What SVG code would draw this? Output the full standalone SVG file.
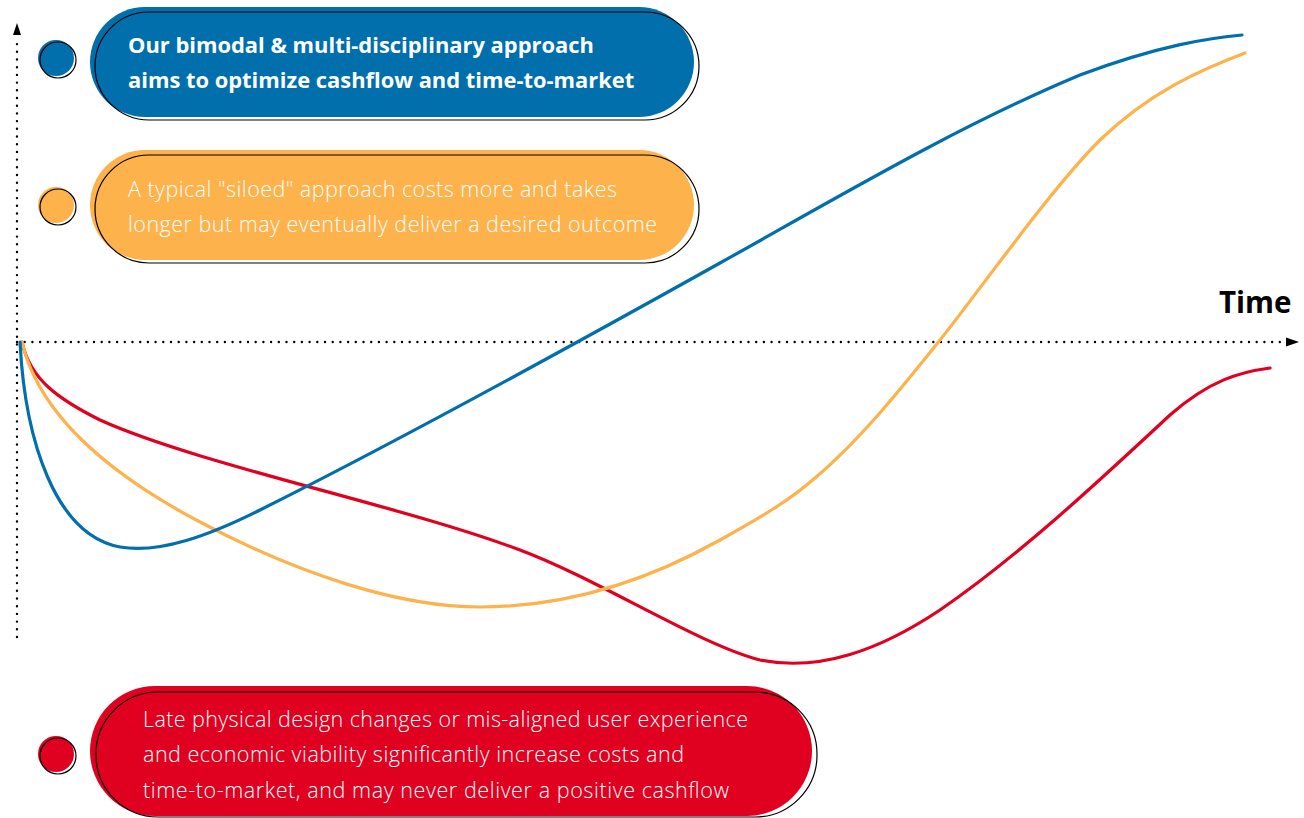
<svg xmlns="http://www.w3.org/2000/svg" width="1304" height="818" viewBox="0 0 1304 818">
<defs>
<style>
.axis{fill:none;stroke:#000;stroke-width:2.4;stroke-linecap:round;stroke-dasharray:0 7.7}
.curve{fill:none;stroke-width:3.2;stroke-linecap:round;stroke-linejoin:round}
.outline{fill:none;stroke:#000;stroke-width:1.2}
.t{font-family:"Open Sans","Noto Sans",sans-serif;fill:#fff}
.light{font-weight:300;font-size:21.5px}
.bold{font-weight:700;font-size:21.9px}
</style>
</defs>
<rect width="1304" height="818" fill="#fff"/>
<g id="axes">
<line class="axis" x1="17" y1="637" x2="17" y2="40"/>
<polygon points="17,23 13,35 21,35" fill="#000"/>
<line class="axis" x1="17" y1="342" x2="1283" y2="342"/>
<polygon points="1299,342 1286,337.5 1286,346.5" fill="#000"/>
<text x="1219" y="313" font-family="'Open Sans','Noto Sans',sans-serif" font-weight="700" font-size="29.5" fill="#000">Time</text>
</g>
<g id="connectors">
<path class="curve" stroke="#E0001F" d="M22,342 C30,380 60,400 100,420 C200,465 400,505 520,550 C600,580 700,645 760,660 C820,672 880,650 940,610 C1020,555 1100,480 1170,415 C1210,380 1240,372 1270,368"/>
<path class="curve" stroke="#FDB24C" d="M22,342 C40,420 120,480 200,522 C300,575 400,607 480,607 C560,607 640,585 720,540 C760,518 790,500 815,478 C860,440 900,390 940,340 C980,290 1050,190 1100,140 C1150,92 1200,70 1245,53"/>
<path class="curve" stroke="#006FAB" d="M20,342 C25,440 55,535 120,547 C160,554 210,535 260,510 C400,440 600,330 720,263 C840,196 960,125 1080,75 C1160,45 1210,38 1242,35"/>
</g>
<g id="node-blue">
<circle cx="56" cy="58" r="18" fill="#006FAB"/>
<circle class="outline" cx="58" cy="60" r="18"/>
<rect x="90" y="7" width="604" height="110" rx="55" fill="#006FAB"/>
<rect class="outline" x="95" y="12" width="604" height="108" rx="54"/>
<text class="t bold" x="128" y="53">Our bimodal &amp; multi-disciplinary approach</text>
<text class="t bold" x="128" y="88">aims to optimize cashflow and time-to-market</text>
</g>
<g id="node-orange">
<circle cx="56" cy="205" r="18" fill="#FDB24C"/>
<circle class="outline" cx="58" cy="207" r="18"/>
<rect x="90" y="150" width="604" height="110" rx="55" fill="#FDB24C"/>
<rect class="outline" x="95" y="155" width="604" height="108" rx="54"/>
<text class="t light" x="128" y="197" textLength="489">A typical "siloed" approach costs more and takes</text>
<text class="t light" x="128" y="232" textLength="529">longer but may eventually deliver a desired outcome</text>
</g>
<g id="node-red">
<circle cx="56" cy="754" r="18" fill="#E0001F"/>
<circle class="outline" cx="58" cy="756" r="18"/>
<rect x="90" y="686" width="722" height="130" rx="65" fill="#E0001F"/>
<rect class="outline" x="96" y="692" width="721" height="125" rx="62"/>
<text class="t light" x="143" y="727" textLength="605">Late physical design changes or mis-aligned user experience</text>
<text class="t light" x="143" y="762" textLength="541">and economic viability significantly increase costs and</text>
<text class="t light" x="143" y="798" textLength="586">time-to-market, and may never deliver a positive cashflow</text>
</g>
</svg>
